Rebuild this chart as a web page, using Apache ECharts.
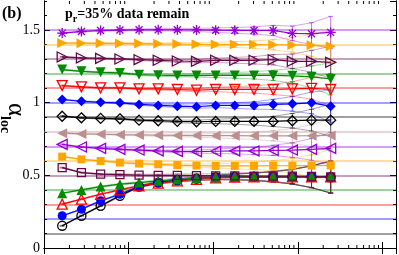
<!DOCTYPE html>
<html><head><meta charset="utf-8">
<script src="https://cdn.jsdelivr.net/npm/echarts@6/dist/echarts.min.js"></script>
<style>html,body{margin:0;padding:0;background:#fff}#c{width:399px;height:255px}</style>
</head><body><div id="c"></div>
<script>
// ---- data ----
const xValues = [1.64, 2.77, 4.67, 7.9, 13.3, 22.4, 37.7, 63.5, 107, 180, 304, 512, 863, 1455, 2450];
const trueValues = [0.1, 0.2, 0.3, 0.4, 0.5, 0.6, 0.7, 0.8, 0.9, 1.0, 1.1, 1.2, 1.3, 1.4, 1.5];
const s01 = [0.153, 0.222, 0.29, 0.359, 0.423, 0.45, 0.465, 0.478, 0.487, 0.49, 0.49, 0.49, 0.49, 0.49, 0.487];
const s02 = [0.222, 0.267, 0.325, 0.37, 0.423, 0.45, 0.465, 0.475, 0.485, 0.49, 0.49, 0.49, 0.49, 0.49, 0.487];
const s03 = [0.302, 0.336, 0.37, 0.40, 0.427, 0.446, 0.462, 0.473, 0.483, 0.488, 0.49, 0.49, 0.49, 0.49, 0.49];
const s04 = [0.377, 0.40, 0.423, 0.439, 0.45, 0.462, 0.473, 0.48, 0.486, 0.489, 0.49, 0.49, 0.49, 0.49, 0.49];
const s05 = [0.553, 0.519, 0.508, 0.505, 0.502, 0.5, 0.5, 0.498, 0.496, 0.496, 0.495, 0.495, 0.494, 0.492, 0.49];
const s06 = [0.629, 0.61, 0.599, 0.588, 0.581, 0.576, 0.571, 0.567, 0.565, 0.565, 0.565, 0.566, 0.566, 0.567, 0.568];
const s07 = [0.713, 0.695, 0.686, 0.679, 0.674, 0.668, 0.665, 0.663, 0.666, 0.668, 0.668, 0.672, 0.674, 0.679, 0.686];
const s08 = [0.79, 0.785, 0.783, 0.78, 0.778, 0.776, 0.775, 0.774, 0.773, 0.773, 0.772, 0.772, 0.772, 0.773, 0.775];
const s09 = [0.907, 0.896, 0.892, 0.889, 0.880, 0.876, 0.871, 0.869, 0.871, 0.871, 0.871, 0.871, 0.876, 0.88, 0.88];
const s10 = [1.022, 1.010, 1.003, 0.999, 0.988, 0.981, 0.976, 0.972, 0.981, 0.981, 0.981, 0.988, 0.992, 0.999, 0.976];
const s11 = [1.118, 1.109, 1.102, 1.102, 1.095, 1.095, 1.091, 1.086, 1.091, 1.091, 1.091, 1.091, 1.095, 1.099, 1.091];
const s12 = [1.228, 1.216, 1.209, 1.205, 1.193, 1.189, 1.187, 1.187, 1.188, 1.188, 1.188, 1.188, 1.185, 1.178, 1.164];
const s13 = [1.315, 1.308, 1.305, 1.301, 1.296, 1.292, 1.287, 1.285, 1.292, 1.292, 1.292, 1.296, 1.285, 1.285, 1.278];
const s14 = [1.411, 1.41, 1.409, 1.408, 1.407, 1.405, 1.404, 1.402, 1.40, 1.40, 1.40, 1.399, 1.398, 1.395, 1.388];
const s15 = [1.479, 1.49, 1.497, 1.5, 1.502, 1.502, 1.502, 1.501, 1.499, 1.498, 1.497, 1.497, 1.477, 1.475, 1.484];
const errors = [0.003, 0.003, 0.004, 0.005, 0.006, 0.007, 0.009, 0.011, 0.015, 0.02, 0.025, 0.035, 0.05, 0.075, 0.11];
const yTickLabels = ['0', '0.5', '1', '1.5'];
const xMinorTicks = [2,3,4,5,6,7,8,9,20,30,40,50,60,70,80,90,200,300,400,500,600,700,800,900,2000,3000,4000,5000,6000,7000,8000,9000];
const titleText = '=35% data remain';
const panelLabel = '(b)';

const allSeries = [s01,s02,s03,s04,s05,s06,s07,s08,s09,s10,s11,s12,s13,s14,s15];
const colors = ['#000000','#0000ff','#ff0000','#008b00','#670748','#ffa500','#9400d3','#bc8f8f',
                '#000000','#0000ff','#ff0000','#008b00','#670748','#ffa500','#9400d3'];
const asterisk = 'path://M0,5L10,5M5,0L5,10M1.5,1.5L8.5,8.5M8.5,1.5L1.5,8.5';
const symbolDefs = [
  ['circle',0,false],['circle',0,true],['triangle',0,false],['triangle',0,true],
  ['rect',0,false],['rect',0,true],['triangle',90,false],['triangle',90,true],
  ['diamond',0,false],['diamond',0,true],['triangle',180,false],['triangle',180,true],
  ['triangle',-90,false],['triangle',-90,true],[asterisk,0,false]
];

function hexA(hex, a){
  const r=parseInt(hex.slice(1,3),16),g=parseInt(hex.slice(3,5),16),b=parseInt(hex.slice(5,7),16);
  return 'rgba('+r+','+g+','+b+','+a+')';
}

const series = [];
allSeries.forEach((vals, i) => {
  const c = colors[i];
  series.push({
    type:'line', silent:true, symbol:'none', data:[], z:1,
    markLine:{silent:true, symbol:'none', label:{show:false}, animation:false,
      lineStyle:{color:hexA(c,0.5), width:1.6, type:'solid'},
      data:[{yAxis:trueValues[i]}]}
  });
  series.push({type:'line', silent:true, symbol:'none', z:2,
    lineStyle:{color:hexA(c,0.45), width:0.8},
    data:xValues.map((x,j)=>[x, vals[j]+errors[j]])});
  series.push({type:'line', silent:true, symbol:'none', z:2,
    lineStyle:{color:hexA(c,0.45), width:0.8},
    data:xValues.map((x,j)=>[x, vals[j]-errors[j]])});
  series.push({
    type:'custom', silent:true, z:3,
    data:xValues.map((x,j)=>[x, vals[j], errors[j]]),
    renderItem:(params, api) => {
      const x=api.value(0), y=api.value(1), e=api.value(2);
      const t=api.coord([x,y+e]), b=api.coord([x,y-e]);
      const st={stroke:hexA(c,0.6), lineWidth:0.9};
      return {type:'group', children:[
        {type:'line', shape:{x1:t[0],y1:t[1],x2:b[0],y2:b[1]}, style:st},
        {type:'line', shape:{x1:t[0]-2.5,y1:t[1],x2:t[0]+2.5,y2:t[1]}, style:st},
        {type:'line', shape:{x1:b[0]-2.5,y1:b[1],x2:b[0]+2.5,y2:b[1]}, style:st}
      ]};
    }
  });
});
allSeries.forEach((vals, i) => {
  const c = colors[i];
  const [sym, rot, filled] = symbolDefs[i];
  series.push({
    type:'line', z:10, symbol:sym, symbolRotate:rot,
    symbolSize: sym==='rect' ? 8 : (sym==='diamond' ? 10 : (sym==='circle' ? 9 : 10)),
    showAllSymbol:true,
    lineStyle:{color:c, width:1.2},
    itemStyle:{color: filled ? c : 'rgba(0,0,0,0)', borderColor:c, borderWidth: filled ? 0 : 1.3},
    data:xValues.map((x,j)=>[x, vals[j]])
  });
});
series.push({
  type:'custom', silent:true, z:20, clip:false,
  data:xMinorTicks.map(v=>[v,0]),
  renderItem:(params, api) => {
    const v=api.value(0);
    const p1=api.coord([v,0]), p2=api.coord([v,1.7]);
    const st={stroke:'#000', lineWidth:1};
    return {type:'group', children:[
      {type:'line', shape:{x1:p1[0],y1:p1[1],x2:p1[0],y2:p1[1]-3}, style:st},
      {type:'line', shape:{x1:p2[0],y1:p2[1],x2:p2[0],y2:p2[1]+3}, style:st}
    ]};
  }
});

const axisCommonX = {type:'log', logBase:10, min:1, max:14500,
  axisLine:{show:true, lineStyle:{color:'#000', width:1}},
  axisTick:{show:true, inside:true, length:6, lineStyle:{color:'#000'}},
  axisLabel:{show:false}, splitLine:{show:false}};
function yAx(pos, interval, len, labels){
  return {type:'value', min:0, max:1.7, interval:interval, position:pos,
    axisLine:{show:true, lineStyle:{color:'#000', width:1}},
    axisTick:{show:true, inside:true, length:len, lineStyle:{color:'#000'}},
    splitLine:{show:false},
    axisLabel:{show:labels, showMaxLabel:false, margin:4, color:'#000',
      fontFamily:'Liberation Serif', fontSize:14,
      formatter:(v)=>{const s=String(+v.toFixed(2)); return yTickLabels.indexOf(s)>=0 ? s : '';}}
  };
}

const chart = echarts.init(document.getElementById('c'), null, {renderer:'canvas'});
chart.setOption({
  animation:false,
  backgroundColor:'#fff',
  grid:{left:44, right:3, top:1, bottom:6, containLabel:false},
  xAxis:[Object.assign({position:'bottom'}, axisCommonX), Object.assign({position:'top'}, axisCommonX)],
  yAxis:[yAx('left',0.5,6,true), yAx('left',0.1,3,false), yAx('right',0.5,6,false), yAx('right',0.1,3,false)],
  graphic:[
    {type:'text', left:2, top:6, style:{text:panelLabel, fontFamily:'Liberation Serif', fontWeight:'bold', fontSize:16, fill:'#000'}},
    {type:'text', x:65, y:16, style:{text:'{p|p}{r|r}{t|'+titleText+'}', verticalAlign:'middle', align:'left',
      rich:{p:{fontFamily:'Liberation Serif', fontWeight:'bold', fontSize:14, fill:'#000', verticalAlign:'bottom', padding:[0,0,3,0]},
            r:{fontFamily:'Liberation Serif', fontWeight:'bold', fontSize:10, fill:'#000', verticalAlign:'bottom'},
            t:{fontFamily:'Liberation Serif', fontWeight:'bold', fontSize:14, fill:'#000', verticalAlign:'bottom', padding:[0,0,3,0]}}}},
    {type:'text', x:13, y:118, rotation:-Math.PI/2, style:{text:'{a|α}{b|loc}', align:'center', verticalAlign:'middle',
      rich:{a:{fontFamily:'Liberation Serif', fontSize:25, fill:'#000', verticalAlign:'bottom', padding:[0,0,5,0]},
            b:{fontFamily:'Liberation Serif', fontWeight:'bold', fontSize:14, fill:'#000', verticalAlign:'bottom'}}}}
  ],
  series:series
});
</script>
</body></html>
